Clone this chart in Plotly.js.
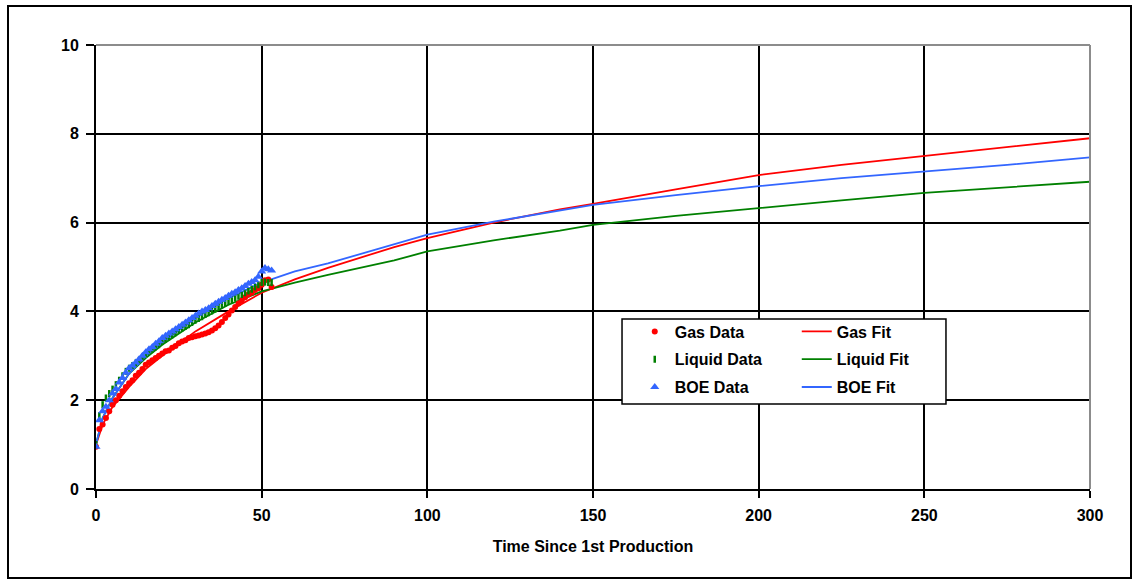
<!DOCTYPE html>
<html>
<head>
<meta charset="utf-8">
<script src="https://cdn.plot.ly/plotly-3.0.1.min.js"></script>
<style>
  html, body { margin: 0; padding: 0; background: #fff; }
  #wrap { position: relative; width: 1138px; height: 582px; }
  #chart { position: absolute; left: 0; top: 0; width: 1138px; height: 582px; }
  #frame { position: absolute; left: 7px; top: 5px; width: 1121px; height: 570px; border: 2px solid #000; pointer-events: none; }
</style>
</head>
<body>
<div id="wrap"><div id="chart"></div><div id="frame"></div></div>
<script>
// ---- data ----
const dataDays = [0,1,2,3,4,5,6,7,8,9,10,11,12,13,14,15,16,17,18,19,20,21,22,23,24,25,26,27,28,29,30,31,32,33,34,35,36,37,38,39,40,41,42,43,44,45,46,47,48,49,50,51,52,53];
const gasData = [0.95,1.35,1.45,1.6,1.75,1.9,2.0,2.1,2.2,2.3,2.38,2.45,2.55,2.62,2.7,2.8,2.85,2.9,2.95,3.0,3.05,3.1,3.12,3.18,3.22,3.28,3.32,3.35,3.4,3.42,3.44,3.46,3.48,3.5,3.53,3.57,3.62,3.68,3.76,3.85,3.93,4.02,4.1,4.18,4.25,4.32,4.38,4.42,4.48,4.52,4.6,4.7,4.72,4.55];
const liquidData = [1.0,1.65,1.9,2.05,2.15,2.25,2.35,2.45,2.55,2.65,2.72,2.78,2.84,2.9,2.97,3.03,3.1,3.15,3.2,3.25,3.32,3.37,3.42,3.47,3.52,3.57,3.62,3.66,3.7,3.75,3.8,3.84,3.88,3.93,3.97,4.01,4.05,4.1,4.14,4.18,4.22,4.26,4.3,4.34,4.38,4.42,4.46,4.5,4.55,4.6,4.65,4.66,4.65,4.65];
const boeData = [0.95,1.55,1.75,1.85,2.0,2.15,2.25,2.4,2.5,2.62,2.72,2.78,2.85,2.92,3.0,3.08,3.15,3.2,3.27,3.33,3.4,3.45,3.5,3.55,3.6,3.65,3.7,3.75,3.8,3.85,3.9,3.95,4.0,4.03,4.07,4.12,4.17,4.22,4.26,4.3,4.35,4.4,4.43,4.48,4.52,4.57,4.62,4.66,4.7,4.78,4.9,4.98,4.95,4.92];

const fitTime = [0,2,5,10,15,20,30,40,50,60,70,80,90,100,120,140,150,175,200,225,250,275,300];
const gasFit = [1.0,1.45,1.85,2.3,2.7,3.0,3.55,4.0,4.42,4.72,4.98,5.22,5.45,5.65,6.0,6.3,6.42,6.75,7.07,7.3,7.5,7.7,7.9];
const liquidFit = [1.0,1.6,2.05,2.6,2.95,3.25,3.75,4.15,4.45,4.65,4.82,4.98,5.15,5.35,5.6,5.82,5.95,6.15,6.33,6.5,6.67,6.8,6.92];
const boeFit = [1.0,1.6,2.05,2.6,3.0,3.3,3.85,4.3,4.65,4.9,5.08,5.3,5.52,5.73,6.02,6.28,6.4,6.62,6.82,7.0,7.15,7.3,7.47];

const xTicks = [0,50,100,150,200,250,300];
const yTicks = [0,2,4,6,8,10];
const xTitle = 'Time Since 1st Production';

// ---- styling ----
const RED = '#FF0000', GREEN = '#008000', BLUE = '#3366FF';
const FONT = {family: 'Liberation Sans, Arial, sans-serif', size: 16, color: '#000', weight: 'bold'};

const traces = [
  {x: fitTime, y: gasFit, mode: 'lines', name: 'Gas Fit', line: {color: RED, width: 1.8}, legend: 'legend2', legendgroup: 'g1'},
  {x: fitTime, y: liquidFit, mode: 'lines', name: 'Liquid Fit', line: {color: GREEN, width: 1.8}, legend: 'legend2', legendgroup: 'g2'},
  {x: fitTime, y: boeFit, mode: 'lines', name: 'BOE Fit', line: {color: BLUE, width: 1.8}, legend: 'legend2', legendgroup: 'g3'},
  {x: dataDays, y: gasData, mode: 'markers', name: 'Gas Data', marker: {color: RED, size: 6, symbol: 'circle'}, legend: 'legend', legendgroup: 'd1'},
  {x: dataDays, y: liquidData, mode: 'markers', name: 'Liquid Data', marker: {color: GREEN, size: 5, symbol: 'line-ns', line: {color: GREEN, width: 2.5}}, legend: 'legend', legendgroup: 'd2'},
  {x: dataDays, y: boeData, mode: 'markers', name: 'BOE Data', marker: {color: BLUE, size: 8, symbol: 'triangle-up'}, legend: 'legend', legendgroup: 'd3'}
];

const legendCommon = {
  font: FONT, bgcolor: 'rgba(0,0,0,0)', borderwidth: 0,
  xanchor: 'left', yanchor: 'top', tracegroupgap: 4, traceorder: 'grouped', orientation: 'v'
};

const layout = {
  width: 1138, height: 582,
  paper_bgcolor: '#fff', plot_bgcolor: '#fff',
  margin: {l: 96, r: 48, t: 45, b: 93, pad: 0},
  font: FONT,
  showlegend: true,
  legend: Object.assign({}, legendCommon, {x: 0.542, y: 0.393}),
  legend2: Object.assign({}, legendCommon, {x: 0.705, y: 0.393}),
  xaxis: {
    range: [0, 300], tickvals: xTicks, ticktext: xTicks.map(String),
    showgrid: true, gridcolor: '#000', gridwidth: 2,
    showline: true, linecolor: '#000', linewidth: 2, zeroline: false,
    ticks: 'outside', ticklen: 7, tickwidth: 2, tickcolor: '#000',
    tickfont: FONT, ticklabelstandoff: 4,
    title: {text: xTitle, font: FONT, standoff: 18}
  },
  yaxis: {
    range: [0, 10], tickvals: yTicks, ticktext: yTicks.map(String),
    showgrid: true, gridcolor: '#000', gridwidth: 2,
    showline: true, linecolor: '#000', linewidth: 2, zeroline: false,
    ticks: 'outside', ticklen: 8, tickwidth: 2, tickcolor: '#000',
    tickfont: FONT, ticklabelstandoff: 4
  },
  shapes: [
    {type: 'line', xref: 'paper', yref: 'paper', x0: 0, x1: 1, y0: 1, y1: 1, line: {color: '#8c8c8c', width: 2}, layer: 'above'},
    {type: 'line', xref: 'paper', yref: 'paper', x0: 1, x1: 1, y0: 0, y1: 1, line: {color: '#8c8c8c', width: 2}, layer: 'above'},
    {type: 'rect', xref: 'paper', yref: 'paper', x0: 0.5292, x1: 0.8551, y0: 0.1914, y1: 0.3829, fillcolor: '#fff', line: {color: '#000', width: 1.5}, layer: 'above'}
  ]
};

Plotly.newPlot('chart', traces, layout, {displayModeBar: false, staticPlot: true});
</script>
</body>
</html>
